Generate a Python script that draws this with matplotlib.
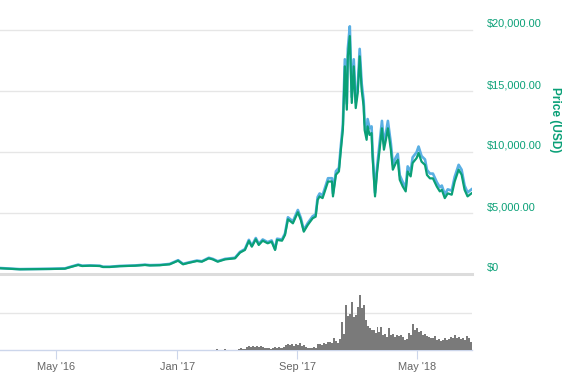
import matplotlib
matplotlib.use("Agg")
import matplotlib.pyplot as plt
import pandas as pd

plt.rcParams['font.family'] = ['Liberation Sans', 'DejaVu Sans']

# ---------------- data ----------------
start_date = "2016-01-09"
# price samples: day offset from start_date, close (green) and high (blue)
price_days = [0, 40, 101, 131, 141, 158, 166, 182, 202, 208, 222, 242, 273, 293, 303,
              323, 343, 360, 370, 380, 398, 408, 422, 430, 440, 455, 475, 485, 495, 503,
              509, 517, 523, 531, 541, 549, 556, 560, 570, 576, 582, 592, 602, 608, 614,
              622, 632, 638, 642, 646, 652, 663, 671, 673, 679, 685, 689, 693, 697, 701,
              703, 707, 711, 715, 719, 723, 727, 731, 735,
              737, 741, 743, 747, 751, 753, 758, 762, 766, 772, 776, 780, 784, 790, 794,
              800, 804, 808, 814, 820, 824, 830, 834, 842, 846, 852, 859, 863, 869, 875,
              883, 889, 893, 899, 905, 913, 919, 927, 933, 939, 945, 953]
price_close = [470, 385, 410, 435, 550, 740, 655, 680, 655, 575, 575, 640, 680, 740, 700,
               720, 795, 1090, 795, 900, 1065, 1010, 1285, 1200, 1010, 1200, 1285, 1750, 1970, 2705,
               2240, 2845, 2380, 2730, 2515, 2650, 1970, 2790, 2730, 3200, 4485, 4155, 5060, 4430, 3470,
               4020, 4570, 4700, 6070, 6360, 6220, 7580, 7580, 6360, 8140, 8410, 10190, 11830, 17020, 13470,
               17840, 19500, 14020, 17020, 13600, 14830, 17840, 15100, 13740,
               11800, 11000, 12100, 11400, 11550, 9620, 6360, 8280, 9750, 11940, 10190, 11000, 11940, 10190, 8550,
               9100, 9370, 7720, 7180, 6770, 8400, 8000, 9100, 9500, 9920, 9210, 8940, 8120, 7840, 7840,
               7160, 6770, 6900, 6220, 6610, 6500, 7580, 8550, 8140, 6900, 6360, 6610]
price_high = [490, 400, 430, 455, 575, 770, 680, 700, 675, 595, 595, 660, 700, 765, 725,
              745, 825, 1130, 830, 935, 1100, 1045, 1330, 1240, 1050, 1240, 1330, 1810, 2040, 2800,
              2320, 2950, 2470, 2830, 2610, 2750, 2050, 2890, 2830, 3320, 4650, 4310, 5250, 4600, 3600,
              4170, 4740, 4880, 6300, 6600, 6450, 7850, 7850, 6600, 8430, 8700, 10550, 12250, 17600, 13950,
              18450, 20300, 14500, 17600, 14080, 15350, 18450, 15620, 14220,
              12400, 11550, 12700, 11950, 12100, 10100, 6650, 8700, 10250, 12550, 10700, 11550, 12550, 10700, 8980,
              9560, 9840, 8100, 7540, 7100, 8820, 8400, 9560, 9980, 10450, 9670, 9390, 8530, 8230, 8230,
              7520, 7110, 7250, 6530, 6940, 6830, 7960, 8950, 8550, 7250, 6680, 6940]

# volume (billions USD), one bar per 4 days starting at day 437
volume_start_day = 437
volume_step_days = 4
volume = [0.4, 0, 0, 0, 0.4, 0, 0, 0, 0, 0,
          0.2, 0.4, 0.8, 0.6, 0.4, 1.2, 1.6, 1.4, 1.8, 1.4, 1.6, 1.2, 1.6, 1.2, 1.0, 0.8, 0.8, 0.6,
          1.0, 1.2, 1.0, 1.2, 0.8, 1.0, 1.2, 2.0, 2.6, 2.0, 2.4, 1.8, 2.6, 2.0, 2.8, 1.8, 2.0, 1.2,
          1.0, 0.8, 1.0, 1.2, 1.0, 2.4, 2.6, 2.2, 2.8, 2.4, 3.2, 3.4, 2.8, 4.8, 3.6, 2.8, 4.4, 11.2,
          6.4, 18.0, 13.6, 14.4, 19.2, 13.2, 14.0, 17.2, 22.0, 16.8, 18.0, 12.0, 9.6, 8.8, 8.0, 8.0,
          6.8, 9.2, 7.2, 9.2, 6.0, 6.4, 5.2, 8.8, 6.0, 6.4, 5.2, 6.0, 5.6, 6.0, 5.2, 4.0, 4.4, 6.8,
          6.0, 10.4, 8.0, 8.8, 7.2, 7.6, 6.0, 6.4, 5.6, 5.2, 4.8, 4.8, 5.6, 4.0, 4.4, 3.6, 4.0, 4.8,
          4.0, 4.4, 5.2, 4.8, 6.0, 4.8, 5.2, 4.4, 4.8, 4.0, 5.6, 4.8, 3.2]

price_ticks = [0, 5000, 10000, 15000, 20000]
x_tick_dates = ["2016-05-01", "2017-01-01", "2017-09-01", "2018-05-01"]
x_tick_labels = ["May '16", "Jan '17", "Sep '17", "May '18"]
end_day = 954

# ---------------- figure ----------------
W, H = 578, 381
fig = plt.figure(figsize=(W / 100, H / 100), dpi=100)
fig.patch.set_facecolor('white')

def frac(x0, y_top, x1, y_bot):
    return [x0 / W, 1 - y_bot / H, (x1 - x0) / W, (y_bot - y_top) / H]

ax = fig.add_axes(frac(0, 10, 472, 274))
axv = fig.add_axes(frac(0, 274, 472, 350), sharex=ax)

t0 = pd.Timestamp(start_date)
pdates = t0 + pd.to_timedelta(price_days, unit='D')
vdates = t0 + pd.to_timedelta([volume_start_day + volume_step_days * i for i in range(len(volume))], unit='D')

green = '#0aa077'
blue = '#5aafe3'
grid_c = '#e6e6e6'

ax.plot(pdates, price_high, color=blue, lw=1.9, solid_joinstyle='round', zorder=3)
ax.plot(pdates, price_close, color=green, lw=1.6, solid_joinstyle='round', zorder=4)

ax.set_ylim(0, 264 * 5000 / 61)
ax.set_xlim(t0, t0 + pd.Timedelta(days=end_day))
for v in price_ticks:
    ax.axhline(v, color=grid_c if v else '#dcdcdc', lw=1 if v else 2.2, zorder=1, clip_on=False)
    lab = "$0" if v == 0 else "${:,.2f}".format(v)
    ax.annotate(lab, xy=(1, v), xycoords=('axes fraction', 'data'),
                xytext=(15, 6), textcoords='offset pixels', ha='left', va='center',
                color=green, fontsize=7.9, annotation_clip=False)
ax.set_yticks([])
for s in ax.spines.values():
    s.set_visible(False)
ax.tick_params(axis='x', which='both', bottom=False, labelbottom=False)

fig.text(555 / W, 1 - 120 / H, "Price (USD)", rotation=270, ha='center', va='center',
         color=green, fontsize=8.6, fontweight='bold')

# volume panel
axv.bar(vdates, volume, width=volume_step_days, align='edge', color='#7a7a7a',
        edgecolor='none', linewidth=0, zorder=3)
axv.set_ylim(0, 30.4)
axv.axhline(15, color=grid_c, lw=1, zorder=1)
axv.set_yticks([])
for s in axv.spines.values():
    s.set_visible(False)
axv.spines['bottom'].set_visible(True)
axv.spines['bottom'].set_color('#ccd6eb')
axv.spines['bottom'].set_linewidth(1)
axv.set_xticks([pd.Timestamp(d) for d in x_tick_dates])
axv.set_xticklabels(x_tick_labels)
axv.tick_params(axis='x', length=6.5, width=0.8, color='#ccd6eb', labelcolor='#666666',
                labelsize=7.9, pad=2)
axv.set_facecolor('none')
ax.set_facecolor('none')

fig.savefig('out.png', dpi=100, facecolor='white')
